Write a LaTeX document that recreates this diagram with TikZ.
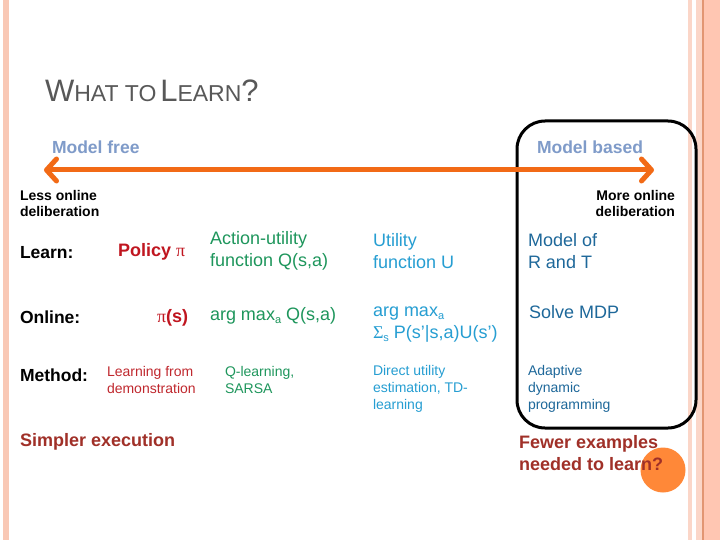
\documentclass[tikz,border=0pt]{standalone}
\usepackage{fontspec}
\setmainfont{Liberation Sans}
\newfontfamily\symf{Liberation Serif}
\usetikzlibrary{arrows.meta}
\definecolor{stripe}{RGB}{249,200,181}
\definecolor{stripelt}{RGB}{251,214,200}
\definecolor{stripeln}{RGB}{226,150,115}
\definecolor{stripedk}{RGB}{255,198,178}
\definecolor{titlegray}{RGB}{88,88,88}
\definecolor{mbcol}{RGB}{127,155,201}
\definecolor{arroworange}{RGB}{242,106,22}
\definecolor{dotorange}{RGB}{255,136,56}
\definecolor{polred}{RGB}{192,22,32}
\definecolor{lfdred}{RGB}{192,40,46}
\definecolor{qgreen}{RGB}{30,150,92}
\definecolor{ucyan}{RGB}{38,158,210}
\definecolor{mblue}{RGB}{30,104,154}
\definecolor{darkred}{RGB}{160,48,40}
\newcommand{\sbs}[1]{\raisebox{-3pt}{\fontsize{11}{11}\selectfont #1}}
\begin{document}
\begin{tikzpicture}[x=1pt,y=-1pt,
  every node/.style={inner sep=0pt,outer sep=0pt},
  rowlbl/.style={font=\bfseries\fontsize{17.5}{21}\selectfont,anchor=west},
  bigtxt/.style={font=\fontsize{18}{22}\selectfont,anchor=west,align=left},
  smalltxt/.style={font=\fontsize{14}{17}\selectfont,anchor=west,align=left},
  endtxt/.style={font=\bfseries\fontsize{18}{22}\selectfont,anchor=west,align=left,text=darkred},
  delib/.style={font=\bfseries\fontsize{14}{16}\selectfont},
  headtxt/.style={font=\bfseries\fontsize{17.5}{21}\selectfont,text=mbcol,anchor=west},
  bigarrow/.style={draw=arroworange,line width=5pt,
    {Straight Barb[length=10pt,width=22pt,round]}-{Straight Barb[length=10pt,width=22pt,round]}}
]
\useasboundingbox (0,0) rectangle (720,540);
\fill[white] (0,0) rectangle (720,540);
% page decoration
\fill[stripe] (3,0) rectangle (9,540);
\fill[stripelt] (688,0) rectangle (692,540);
\fill[stripelt] (696,0) rectangle (702,540);
\fill[stripeln] (702,0) rectangle (703.5,540);
\fill[stripedk] (703.5,0) rectangle (720,540);
% title
\node[anchor=base west,text=titlegray] (title) at (45,102)
  {\fontsize{31}{31}\selectfont W\fontsize{23}{23}\selectfont HAT TO\,\fontsize{31}{31}\selectfont L\fontsize{23}{23}\selectfont EARN\fontsize{31}{31}\selectfont ?};
% model-based box
\draw[line width=3pt,rounded corners=28pt] (517,121) rectangle (696,428);
% headings and arrow
\node[headtxt] (mfree) at (52,147) {Model free};
\node[headtxt] (mbased) at (537,147) {Model based};
\coordinate (la) at (44,170);
\coordinate (ra) at (654,170);
\draw[bigarrow] (la) -- (ra);
\node[delib,anchor=west,align=left] (less) at (20,203) {Less online\\deliberation};
\node[delib,anchor=east,align=right] (more) at (675,203) {More online\\deliberation};
% row labels
\node[rowlbl] (learn) at (20,253) {Learn:};
\node[rowlbl] (online) at (20,317) {Online:};
\node[rowlbl] (method) at (20,375) {Method:};
% column 1
\node[anchor=west,text=polred,font=\bfseries\fontsize{18}{22}\selectfont] (policy) at (118,252) {Policy {\symf\mdseries π}};
\node[anchor=west,text=polred,font=\bfseries\fontsize{18}{22}\selectfont] (pis) at (157,318) {{\symf\mdseries π}(s)};
\node[smalltxt,text=lfdred] (lfd) at (107,380) {Learning from\\demonstration};
% column 2
\node[bigtxt,text=qgreen] (au) at (210,251) {Action-utility\\function Q(s,a)};
\node[bigtxt,text=qgreen] (am) at (210,316) {arg max\sbs{a} Q(s,a)};
\node[smalltxt,text=qgreen] (ql) at (225,380) {Q-learning,\\SARSA};
% column 3
\node[bigtxt,text=ucyan] (ut) at (373,251) {Utility\\function U};
\node[bigtxt,text=ucyan] (ua) at (373,325) {arg max\sbs{a}\\{\symf Σ}\sbs{s} P(s’|s,a)U(s’)};
\node[smalltxt,text=ucyan] (du) at (373,389) {Direct utility\\estimation, TD-\\learning};
% column 4
\node[bigtxt,text=mblue] (mo) at (528,251) {Model of\\R and T};
\node[bigtxt,text=mblue] (sm) at (529,312) {Solve MDP};
\node[smalltxt,text=mblue] (adp) at (528,389) {Adaptive\\dynamic\\programming};
% bottom
\node[circle,fill=dotorange,minimum size=45pt] (dot) at (663,470) {};
\node[endtxt] (se) at (20,442) {Simpler execution};
\node[endtxt] (fe) at (519,453) {Fewer examples\\needed to learn?};
\end{tikzpicture}
\end{document}
